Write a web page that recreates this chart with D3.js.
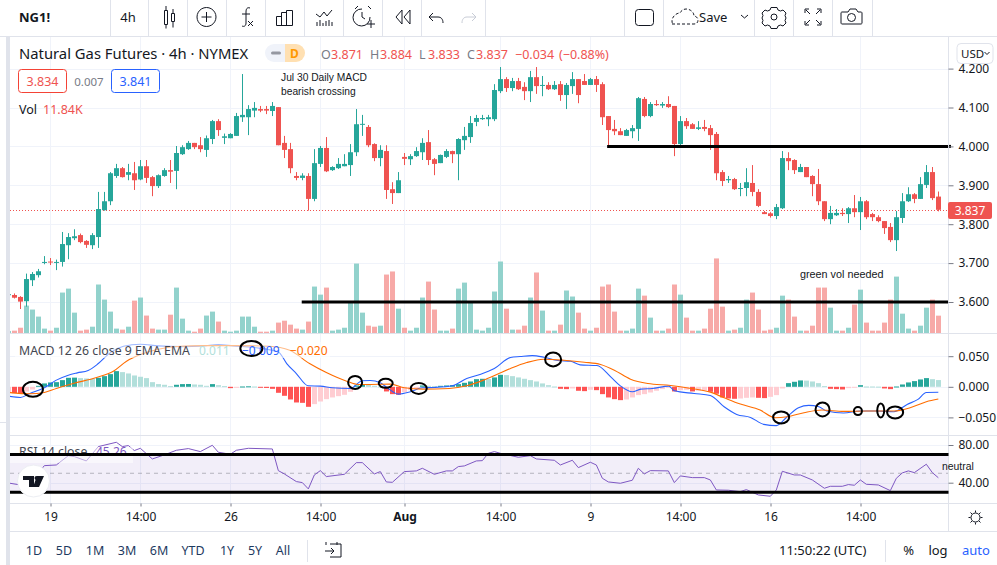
<!DOCTYPE html>
<html><head><meta charset="utf-8"><title>NG1! 4h</title>
<script src="https://cdnjs.cloudflare.com/ajax/libs/d3/7.8.5/d3.min.js"></script>
<style>html,body{margin:0;padding:0;background:#fff;overflow:hidden}svg{display:block}
text{font-family:"Noto Sans",sans-serif;fill:#131722}</style></head><body><div id="c"></div>
<script>
const opens=[3.618,3.618,3.613,3.602,3.656,3.669,3.701,3.704,3.702,3.703,
3.746,3.764,3.772,3.757,3.746,3.767,3.836,3.859,3.924,3.944,
3.927,3.931,3.915,3.949,3.921,3.898,3.924,3.939,3.937,3.980,
3.993,4.009,4.003,3.991,4.019,4.065,4.022,4.021,4.027,4.075,
4.075,4.092,4.096,4.096,4.091,4.101,4.009,3.993,3.924,3.919,
3.924,3.865,3.955,3.996,3.939,3.944,3.949,3.952,3.985,4.056,
4.050,4.006,3.970,3.988,3.890,3.880,3.973,3.967,3.975,3.985,
4.011,3.967,3.957,3.973,3.988,3.980,4.016,4.024,4.063,4.070,
4.070,4.070,4.142,4.173,4.150,4.168,4.153,4.142,4.178,4.156,
4.158,4.147,4.160,4.132,4.155,4.173,4.168,4.158,4.173,4.160,
4.078,4.045,4.039,4.027,4.039,4.045,4.122,4.078,4.109,4.105,
4.109,4.104,4.006,4.065,4.057,4.045,4.050,4.047,4.032,3.934,
3.913,3.916,3.891,3.893,3.906,3.883,3.831,3.828,3.821,3.841,
3.970,3.965,3.934,3.947,3.924,3.903,3.859,3.813,3.823,3.829,
3.826,3.841,3.831,3.859,3.826,3.818,3.808,3.793,3.759,3.816,
3.859,3.877,3.865,3.901,3.934,3.871];
const closes=[3.620,3.611,3.601,3.659,3.672,3.679,3.703,3.703,3.703,3.749,
3.767,3.769,3.754,3.747,3.772,3.839,3.859,3.931,3.944,3.921,
3.934,3.913,3.949,3.919,3.898,3.926,3.939,3.935,3.983,3.998,
4.009,3.998,3.993,4.021,4.065,4.042,4.026,4.032,4.078,4.081,
4.096,4.099,4.092,4.092,4.104,4.003,3.991,3.944,3.919,3.925,
3.865,3.957,3.996,3.936,3.947,3.955,3.955,3.985,4.057,4.058,
4.003,3.970,3.991,3.888,3.880,3.913,3.968,3.975,3.988,4.009,
3.965,3.955,3.978,3.988,3.980,4.019,4.027,4.060,4.073,4.073,
4.075,4.145,4.173,4.150,4.168,4.147,4.142,4.178,4.155,4.158,
4.147,4.158,4.132,4.158,4.173,4.132,4.158,4.173,4.158,4.075,
4.042,4.039,4.029,4.042,4.047,4.124,4.078,4.109,4.106,4.109,
4.101,4.006,4.065,4.052,4.045,4.049,4.045,4.029,3.931,3.911,
3.916,3.890,3.893,3.908,3.883,3.847,3.826,3.821,3.844,3.970,
3.962,3.939,3.947,3.921,3.903,3.859,3.813,3.829,3.829,3.826,
3.841,3.831,3.859,3.818,3.818,3.808,3.790,3.759,3.818,3.859,
3.877,3.865,3.903,3.934,3.867,3.837];
const highs=[3.623,3.622,3.615,3.673,3.677,3.685,3.718,3.713,3.709,3.780,
3.777,3.787,3.776,3.759,3.777,3.883,3.883,3.934,3.955,3.947,
3.955,3.960,3.965,3.965,3.924,3.928,3.944,3.965,4.001,4.003,
4.014,4.009,4.024,4.028,4.068,4.070,4.033,4.034,4.086,4.186,
4.106,4.114,4.104,4.104,4.114,4.101,4.027,4.009,3.934,3.931,
3.931,3.993,4.001,4.024,3.949,3.970,3.980,4.006,4.096,4.081,
4.055,4.008,4.003,4.003,3.908,3.934,3.983,3.980,3.998,4.021,
4.042,3.970,3.979,3.993,3.989,4.021,4.050,4.078,4.081,4.081,
4.081,4.160,4.204,4.178,4.176,4.176,4.165,4.194,4.204,4.181,
4.165,4.168,4.168,4.163,4.191,4.173,4.186,4.176,4.181,4.165,
4.078,4.068,4.047,4.045,4.055,4.127,4.127,4.114,4.119,4.114,
4.129,4.104,4.078,4.073,4.060,4.065,4.068,4.055,4.037,3.939,
3.924,3.919,3.906,3.944,3.952,3.890,3.834,3.831,3.852,3.988,
3.985,3.967,3.955,3.947,3.926,3.942,3.859,3.847,3.839,3.841,
3.844,3.875,3.870,3.862,3.829,3.823,3.808,3.803,3.834,3.880,
3.895,3.880,3.921,3.952,3.947,3.884];
const lows=[3.616,3.609,3.582,3.588,3.641,3.663,3.697,3.695,3.682,3.691,
3.710,3.759,3.751,3.739,3.736,3.739,3.835,3.849,3.919,3.920,
3.913,3.888,3.913,3.906,3.872,3.893,3.922,3.906,3.890,3.978,
3.991,3.993,3.985,3.973,4.006,4.027,4.006,4.021,4.027,4.063,
4.029,4.075,4.088,4.083,4.078,4.003,3.970,3.931,3.913,3.913,
3.835,3.859,3.947,3.934,3.937,3.942,3.949,3.924,3.975,4.027,
3.998,3.962,3.949,3.865,3.852,3.880,3.952,3.952,3.973,3.965,
3.952,3.926,3.957,3.970,3.957,3.913,3.991,4.009,4.052,4.068,
4.052,4.065,4.137,4.140,4.142,4.145,4.119,4.114,4.135,4.129,
4.145,4.145,4.117,4.096,4.135,4.111,4.158,4.158,4.140,4.055,
4.001,4.029,4.029,4.027,4.021,4.014,4.075,4.075,4.104,4.099,
4.099,3.975,4.003,4.045,4.045,4.042,4.039,3.991,3.913,3.898,
3.906,3.888,3.872,3.872,3.872,3.844,3.826,3.817,3.813,3.839,
3.939,3.929,3.934,3.921,3.872,3.849,3.808,3.800,3.821,3.821,
3.803,3.818,3.785,3.813,3.808,3.805,3.775,3.754,3.731,3.803,
3.857,3.854,3.865,3.893,3.862,3.833];
const volumesK=[1.4,1.6,3.6,18.7,16.0,11.2,3.0,1.6,3.6,27.6,
30.3,13.9,1.6,2.3,4.3,33.1,22.8,14.6,3.0,2.3,
4.3,22.1,24.2,11.9,3.0,2.3,2.3,12.5,31.0,9.8,
1.6,0.9,3.0,11.9,14.6,7.8,1.6,0.9,1.6,11.2,
11.2,4.3,0.9,0.9,1.6,7.1,8.4,5.7,3.0,2.3,
7.8,31.7,26.2,31.0,1.6,2.3,3.6,21.0,47.4,13.9,
5.0,4.3,5.0,39.9,42.0,16.6,3.6,1.6,3.6,24.2,
35.1,16.0,1.6,1.6,3.0,30.3,34.4,21.0,2.3,1.6,
3.6,28.3,48.8,16.6,2.3,2.3,5.0,24.2,41.3,15.3,
1.6,1.6,5.7,29.0,24.9,13.9,3.0,1.6,3.6,31.7,
33.1,14.6,1.6,1.6,3.0,30.3,25.5,10.5,1.6,1.6,
3.0,33.1,26.2,10.5,1.6,1.6,3.0,16.6,50.9,18.0,
1.6,2.3,3.6,22.8,27.6,16.0,1.6,2.3,3.6,25.5,
22.8,11.2,1.6,1.6,5.0,31.0,31.0,17.3,1.6,1.6,
3.6,19.4,29.6,7.1,1.6,1.6,7.1,22.8,38.5,13.2,
3.0,1.6,5.0,17.3,22.8,11.84];
const macdHist=[-.0098,-.0104,-.0109,-.0076,-.0044,.0016,.0055,.0071,.0076,.0109,
.0147,.0150,.0142,.0136,.0131,.0147,.0174,.0207,.0256,.0240,
.0218,.0185,.0164,.0142,.0076,.0044,.0033,.0011,.0033,.0044,
.0046,.0038,.0033,.0016,.0044,.0027,.0011,-.0022,-.0016,.0005,
.0008,.0005,-.0016,-.0019,-.0033,-.0098,-.0147,-.0207,-.0256,-.0262,
-.0327,-.0283,-.0240,-.0202,-.0174,-.0153,-.0131,-.0082,.0022,.0038,
.0033,.0016,.0005,-.0076,-.0120,-.0131,-.0087,-.0055,-.0027,.0022,
.0016,.0011,.0016,.0022,.0027,.0044,.0065,.0087,.0125,.0131,
.0128,.0153,.0196,.0191,.0174,.0153,.0131,.0109,.0087,.0055,
.0027,.0005,-.0033,-.0038,-.0027,-.0065,-.0071,-.0049,-.0055,-.0120,
-.0174,-.0202,-.0218,-.0207,-.0174,-.0136,-.0120,-.0093,-.0065,-.0038,
-.0016,-.0076,-.0055,-.0049,-.0076,-.0065,-.0060,-.0082,-.0114,-.0174,
-.0191,-.0196,-.0191,-.0180,-.0174,-.0180,-.0185,-.0164,-.0136,-.0027,
.0060,.0082,.0104,.0101,.0087,.0060,.0011,-.0033,-.0038,-.0044,
-.0022,-.0016,.0027,.0005,.0005,.0003,-.0027,-.0038,.0005,.0038,
.0071,.0093,.0120,.0142,.0125,.0110];
const macdBars=[0,2,3.6,6,8,10,11.5,13.3,15,17,19.2,22,25,28.7,32.5,35,37.5,41,45,46.4,48,50,52,54,57,59,60.3,62,63.3,65,67,69,71,74,76.4,78.6,81,83.7,85.3,87.3,89.3,91.6,93.7,95.3,98.1,100.4,102,104,105.4,107.3,110.1,111,114.3,117,119.3,121.4,123.7,125.9,128,129.8,131.7,133.4,135.1,136.4,139.2,142,144.8,147.6,149.8,151.6,153,155];
const macdLine=[-.0152,-.0174,-.0109,-.0016,.0109,.0190,.0228,.0266,.0380,.0559,.0662,.0695,.0668,.0657,.0668,.0690,.0668,.0641,.0570,.0380,.0217,.0016,.0011,-.0016,-.0027,.0098,.0103,.0065,-.0027,-.0119,-.0081,-.0016,-.0011,.0016,.0136,.0201,.0299,.0478,.0494,.0510,.0483,.0429,.0418,.0358,.0348,.0163,.0016,-.0081,-.0038,-.0027,.0011,-.0065,-.0109,-.0141,-.0326,-.0451,-.0500,-.0614,-.0635,-.0489,-.0342,-.0304,-.0326,-.0396,-.0429,-.0396,-.0396,-.0407,-.0288,-.0206,-.0092,-.0090];
const signalBars=[0,3.6,6,8,10.8,14.7,17.5,19.7,22,25,28.7,32.5,38,43.5,46.9,50.2,53,56.4,58.3,60.3,63.7,66,69,73.5,76.4,79.2,81.4,83.7,86.4,89.2,92.6,96,98.7,101,103.7,106.6,110.4,113.8,117,119.3,122,125.3,127.8,129.8,132.6,135.6,139.2,143.1,147.6,150.3,153,155];
const signalLine=[-.0092,-.0114,-.0092,-.0027,.0054,.0152,.0255,.0418,.0527,.0614,.0662,.0673,.0673,.0662,.0597,.0380,.0233,.0092,.0038,.0038,.0043,-.0016,-.0038,-.0027,.0016,.0109,.0201,.0299,.0396,.0451,.0434,.0402,.0364,.0272,.0125,.0054,.0022,-.0027,-.0087,-.0179,-.0282,-.0380,-.0505,-.0489,-.0424,-.0380,-.0402,-.0396,-.0396,-.0342,-.0244,-.0200];
const rsiBars=[0,2,4,6,8,10,11,13,15,18,19,20,21,22,24,26,28,30,32,34,35,37,38,40,44,45,46,48,49,50,51,52,53,56,58,59,61,62,63,64,66,68,69,71,73,74,75,76,78,79,80,81,82,85,87,88,91,92,94,95,97,98,99,100,102,104,105,106,107,110,111,112,114,116,117,118,120,122,123,125,127,128,129,131,132,134,136,137,139,140,141,142,143,145,147,148,149,150,151,153,154,155];
const rsiVals=[39.7,37.6,42.6,58.1,58.8,68.7,67.7,63.1,78.3,82.9,78.3,79.4,74.1,76.5,65.2,69.5,74.4,76.2,73.0,79.7,72.3,70.2,74.4,76.5,75.8,52.8,49.3,41.2,40.1,33.4,48.2,52.8,46.5,48.9,61.3,61.3,49.3,51.8,40.8,40.4,51.8,52.5,55.3,48.9,52.5,52.5,57.1,57.8,63.1,63.4,71.2,73.0,71.2,67.0,68.7,65.2,63.8,58.8,63.8,56.0,61.7,58.8,44.7,40.8,39.4,42.6,55.3,49.3,52.8,52.5,40.1,47.2,45.4,45.4,42.9,32.3,32.0,30.5,32.7,27.0,25.6,32.3,52.1,48.2,48.2,42.9,34.1,36.2,36.2,38.0,37.3,42.9,38.3,37.6,31.6,44.7,50.4,52.5,50.7,59.6,50.7,45.26];
const priceTicks=[4.2,4.1,4.0,3.9,3.8,3.7,3.6];
const macdTicks=[0.05,0,-0.05];
const rsiTicks=[80,40];
const timeBars=[7,22,37,52,66,82,97,112,127,142];
const timeLabels=["19","14:00","26","14:00","Aug","14:00","9","14:00","16","14:00"];
const ovalBars=[4.1,40.5,57.8,62.9,68.4,90.8,128.8,135.7,141.6,145.4,147.8];
const ovalVals=[-.0042,.0627,.0072,.0056,-.0026,.0448,-.05,-.0369,-.0397,-.0386,-.0418];
const ovalRx=[10,11,7,7,8,8,8,7,4,3.5,8];
const ovalRy=[7.5,7.5,6.5,4.5,5.5,7,6,7,4,7,6];
const rangeBtns=["1D","5D","1M","3M","6M","YTD","1Y","5Y","All"];

const W=997,H=565,L=10,R=948.5,MT=37,MB=333.5,DB=435.5,RB=503.5;
const GREEN="#26a69a",RED="#ef5350",GRID="#f0f3fa",LINE="#e0e3eb",INK="#131722";
const svg=d3.select("#c").append("svg").attr("width",W).attr("height",H).attr("viewBox",`0 0 ${W} ${H}`);
const x=d3.scaleLinear().domain([0,155]).range([8.33,938.33]);
const px=i=>Math.floor(x(i))+0.5;
const yP=d3.scaleLinear().domain([3.6,4.2]).range([302,68.6]);
const yV=d3.scaleLinear().domain([0,60]).range([333,245.1]);
const yM=d3.scaleLinear().domain([-0.05,0.05]).range([417.4,356.2]);
const yR=d3.scaleLinear().domain([40,80]).range([482.7,445]);
const defs=svg.append("defs");
defs.append("clipPath").attr("id","pm").append("rect").attr("x",L).attr("y",MT).attr("width",R-L).attr("height",MB-MT);
defs.append("clipPath").attr("id","pd").append("rect").attr("x",L).attr("y",MB).attr("width",R-L).attr("height",DB-MB);
defs.append("clipPath").attr("id","pr").append("rect").attr("x",L).attr("y",DB).attr("width",R-L).attr("height",RB-DB);

// grids
const grid=svg.append("g");
grid.append("g").selectAll("line").data(timeBars).join("line").attr("x1",d=>px(d)).attr("x2",d=>px(d)).attr("y1",MT).attr("y2",RB).attr("stroke",GRID);
[[yP,priceTicks],[yM,macdTicks],[yR,rsiTicks]].forEach(([s,t])=>{
  grid.append("g").selectAll("line").data(t).join("line").attr("x1",L).attr("x2",R).attr("y1",d=>Math.round(s(d))+.5).attr("y2",d=>Math.round(s(d))+.5).attr("stroke",GRID);
});

// main pane
const bars=d3.range(opens.length);
const main=svg.append("g").attr("clip-path","url(#pm)");
main.append("g").selectAll("rect").data(bars).join("rect")
 .attr("x",i=>px(i)-2.5).attr("width",5).attr("y",i=>yV(volumesK[i])).attr("height",i=>yV(0)-yV(volumesK[i]))
 .attr("fill",i=>closes[i]>=opens[i]?"#92d2cc":"#f7a9a7");
main.append("line").attr("x1",L).attr("x2",R).attr("y1",Math.round(yP(3.837))+.5).attr("y2",Math.round(yP(3.837))+.5)
 .attr("stroke",RED).attr("stroke-dasharray","1 2");
main.append("g").selectAll("line").data(bars).join("line")
 .attr("x1",i=>px(i)).attr("x2",i=>px(i)).attr("y1",i=>yP(highs[i])).attr("y2",i=>yP(lows[i]))
 .attr("stroke",i=>closes[i]>=opens[i]?GREEN:RED);
main.append("g").selectAll("rect").data(bars).join("rect")
 .attr("x",i=>px(i)-2.5).attr("width",5)
 .attr("y",i=>yP(Math.max(opens[i],closes[i])))
 .attr("height",i=>Math.max(1,Math.abs(yP(opens[i])-yP(closes[i]))))
 .attr("fill",i=>closes[i]>=opens[i]?GREEN:RED);
main.append("line").attr("x1",x(99.8)).attr("x2",951).attr("y1",yP(4)).attr("y2",yP(4)).attr("stroke","#000").attr("stroke-width",3);
svg.append("line").attr("x1",951).attr("x2",948).attr("y1",yP(4)).attr("y2",yP(4)).attr("stroke","#000").attr("stroke-width",3);
main.append("line").attr("x1",x(48.9)).attr("x2",R).attr("y1",yP(3.6)).attr("y2",yP(3.6)).attr("stroke","#000").attr("stroke-width",3);

// macd pane
const mp=svg.append("g").attr("clip-path","url(#pd)");
mp.append("g").selectAll("rect").data(bars).join("rect")
 .attr("x",i=>px(i)-2.5).attr("width",5)
 .attr("y",i=>Math.min(yM(0),yM(macdHist[i])))
 .attr("height",i=>Math.max(1,Math.abs(yM(macdHist[i])-yM(0))))
 .attr("fill",i=>{const v=macdHist[i],p=i?macdHist[i-1]:v;return v>=0?(v>p?GREEN:"#b2dfdb"):(v<p?"#ff5252":"#ffcdd2");});
const lM=d3.line().x(d=>x(d[0])).y(d=>yM(d[1])).curve(d3.curveMonotoneX);
mp.append("path").attr("d",lM(d3.zip(macdBars,macdLine))).attr("fill","none").attr("stroke","#2962ff").attr("stroke-width",1.1);
mp.append("path").attr("d",lM(d3.zip(signalBars,signalLine))).attr("fill","none").attr("stroke","#ff6d00").attr("stroke-width",1.1);
svg.append("rect").attr("x",15).attr("y",342).attr("width",315).attr("height",16).attr("fill","#fff").attr("opacity",.55);

// rsi pane
const rp=svg.append("g").attr("clip-path","url(#pr)");
rp.append("rect").attr("x",L).attr("width",R-L).attr("y",yR(70)).attr("height",yR(30)-yR(70)).attr("fill","#7e57c2").attr("opacity",.1);
rp.append("line").attr("x1",L).attr("x2",R).attr("y1",yR(50)).attr("y2",yR(50)).attr("stroke","#787b86").attr("stroke-opacity",.5).attr("stroke-dasharray","4 4");
rp.append("path").attr("d",d3.line().x(d=>x(d[0])).y(d=>yR(d[1]))(d3.zip(rsiBars,rsiVals))).attr("fill","none").attr("stroke","#7e57c2").attr("stroke-width",1);
svg.append("rect").attr("x",L).attr("y",447).attr("width",123).attr("height",16).attr("fill","#fff").attr("opacity",.5);

// structure lines
const st=svg.append("g").attr("stroke",LINE).attr("fill","none");
[[0,36.5,W,36.5],[L,MB,W,MB],[L,DB,W,DB],[L,RB,W,RB],[L,531.5,W,531.5],[R,MT,R,531.5]].forEach(a=>
  st.append("line").attr("x1",a[0]).attr("y1",a[1]).attr("x2",a[2]).attr("y2",a[3]));
svg.append("rect").attr("x",6).attr("y",37).attr("width",4).attr("height",528).attr("fill",LINE);
svg.append("line").attr("x1",0).attr("x2",6).attr("y1",422.5).attr("y2",422.5).attr("stroke",LINE);
[110,148,187,226,265,304,343,382,421,485,624,663,754,793,832,872].forEach(v=>
  st.append("line").attr("x1",v+.5).attr("x2",v+.5).attr("y1",0).attr("y2",36));

// axes
function axisR(sc,ticks,fmt){
  const g=svg.append("g").attr("transform",`translate(${R},0)`)
   .call(d3.axisRight(sc).tickValues(ticks).tickFormat(fmt).tickSize(5).tickPadding(5));
  g.select(".domain").remove();
  g.selectAll("line").attr("stroke","#787b86");
  g.selectAll("text").attr("font-size",12).attr("font-family",'"Noto Sans",sans-serif').attr("fill",INK);
}
axisR(yP,priceTicks,d3.format(".3f"));
axisR(yM,macdTicks,d=>d3.format(".3f")(d).replace("-","\u2212"));
axisR(yR,rsiTicks,d3.format(".2f"));
const tg=svg.append("g").attr("transform",`translate(0,${RB})`)
 .call(d3.axisBottom(d3.scaleOrdinal().domain(timeBars).range(timeBars.map(px))).tickFormat((d,i)=>timeLabels[i]).tickSize(3).tickPadding(6));
tg.select(".domain").remove();
tg.selectAll("line").attr("stroke","#787b86");
tg.selectAll("text").attr("font-size",12).attr("font-family",'"Noto Sans",sans-serif').attr("fill",INK).attr("font-weight",(d,i)=>timeLabels[i]=="Aug"?700:400);

// legends
function T(s,xp,yp,o={}){const t=svg.append("text").attr("x",xp).attr("y",yp).attr("font-size",o.size||12).text(s);
 if(o.fill)t.style("fill",o.fill);if(o.anchor)t.attr("text-anchor",o.anchor);if(o.weight)t.attr("font-weight",o.weight);
 if(o.font)t.style("font-family",o.font);return t;}
T("Natural Gas Futures \u00b7 4h \u00b7 NYMEX",19,59,{size:14.8});
svg.append("path").attr("d","M285 44H274a9 9 0 0 0 0 18H285Z").attr("fill","#f0f3fa");
svg.append("path").attr("d","M285 44H296a9 9 0 0 1 0 18H285Z").attr("fill","#ffe0b2");
svg.append("rect").attr("x",271).attr("y",51.5).attr("width",10).attr("height",3).attr("rx",1.5).attr("fill","#9598a1");
T("D",294.5,58,{size:12,anchor:"middle",weight:700,fill:"#ff9800"});
[["O",321,"#787b86"],["3.871",331,RED],["H",370,"#787b86"],["3.884",380,RED],["L",419,"#787b86"],["3.833",428,RED],["C",467,"#787b86"],["3.837",476,RED],["\u22120.034",515,RED],["(\u22120.88%)",559,RED]]
 .forEach(a=>T(a[0],a[1],59,{size:12.5,fill:a[2]}));
svg.append("rect").attr("x",18.5).attr("y",69.5).attr("width",48).attr("height",23).attr("rx",3).attr("fill","#fff").attr("stroke","#f44336");
T("3.834",42.5,86,{size:12.5,anchor:"middle",fill:RED});
T("0.007",89,86,{size:11.5,anchor:"middle",fill:"#787b86"});
svg.append("rect").attr("x",111.5).attr("y",69.5).attr("width",48).attr("height",23).attr("rx",3).attr("fill","#fff").attr("stroke","#2962ff");
T("3.841",135.5,86,{size:12.5,anchor:"middle",fill:"#2962ff"});
T("Vol",19,114,{size:12.5});
T("11.84K",43,114,{size:12.5,fill:RED});
const A='"Liberation Sans",sans-serif';
T("Jul 30 Daily MACD",281,81,{size:10.25,font:A});
T("bearish crossing",281,95,{size:10.25,font:A});
T("green vol needed",800,278,{size:10.8,font:A});
T("neutral",942,470,{size:10.4,font:A});
T("MACD 12 26 close 9 EMA EMA",19,355,{size:12.3,fill:"#434651"});
T("0.011",199,355,{size:12,fill:"#b2dfdb"});
T("\u22120.009",242,355,{size:12,fill:"#2962ff"});
T("\u22120.020",290,355,{size:12,fill:"#ff6d00"});
T("RSI 14 close",19,456,{size:12.3,fill:"#434651"});
T("45.26",96,456,{size:12,fill:"#7e57c2"});
// black band lines and ovals
[70,30].forEach(v=>svg.append("line").attr("x1",L).attr("x2",R).attr("y1",yR(v)).attr("y2",yR(v)).attr("stroke","#000").attr("stroke-width",3));
svg.append("g").selectAll("ellipse").data(ovalBars).join("ellipse")
 .attr("cx",d=>x(d)).attr("cy",(d,i)=>yM(ovalVals[i])).attr("rx",(d,i)=>ovalRx[i]).attr("ry",(d,i)=>ovalRy[i])
 .attr("fill","none").attr("stroke","#000").attr("stroke-width",2);
// logo
svg.append("circle").attr("cx",33.5).attr("cy",481).attr("r",16).attr("fill","#fff").attr("stroke","#eceef3");
svg.append("path").attr("d","M23 476H34V487H29V480H23ZM37 476H44L39 487H33Z").attr("fill",INK);
svg.append("circle").attr("cx",36.5).attr("cy",478).attr("r",2).attr("fill",INK);
// last price tag
svg.append("rect").attr("x",948).attr("y",202).attr("width",44).attr("height",17).attr("rx",2).attr("fill",RED);
T("3.837",970,215,{size:12,anchor:"middle",fill:"#fff"});
// usd
svg.append("rect").attr("x",957).attr("y",43.5).attr("width",36).attr("height",20).attr("rx",4).attr("fill","#fff").attr("stroke",LINE);
T("USD",961,58,{size:11.5});
svg.append("path").attr("d","M984.5 52l2.5 2.5 2.5-2.5").attr("fill","none").attr("stroke",INK);
// top bar
T("NG1!",19,22,{size:13,weight:700});
T("4h",128,22,{size:13,anchor:"middle"});
T("Save",699,22,{size:13});
const ic=svg.append("g").attr("fill","none").attr("stroke",INK).attr("stroke-width",1);
[
"M164.5 10.5h3v14h-3zM166 6v4.5M166 24.5v4M171.5 13.5h3v8h-3zM173 9v4.5M173 21.5v6",
"M206.5 7.5a9.5 9.5 0 1 0 .01 0ZM206.5 12v10M201.5 17h10",
"M250 8c-3-1-4 1-4 4v11c0 3-2 4-4 3M242 14h8M248 21l5 5M253 21l-5 5",
"M276.5 25.5V16.5h5v9M281.5 25.5V12.5h5v13M286.5 25.5V10.5h6v15M276.5 25.5h16",
"M316 14l4 3 4-5 3 4 5-6M317 26v-4M320 26v-6M323 26v-3M326 26v-5M329 26v-6M332 26v-4",
"M362 9a8.5 8.5 0 1 0 8 8M362 12v5l3 2M355 9l3-3M368 6l3 3M367 24h8M371 20v8",
"M402 10l-6 7 6 7zM410 10l-6 7 6 7z",
"M433 13l-4 4 4 4M429 17h9c3 0 5 2 5 6",
"M771 7.5h6l1 2.500 2.500 1 2.500-1 3 3-1 2.500 1 2.500v0l-1 2.500 1 2.500-3 3-2.500-1-2.500 1-1 2.500h-6l-1-2.500-2.500-1-2.500 1-3-3 1-2.500-1-2.500 1-2.500-1-2.500 3-3 2.500 1 2.500-1z"
].forEach(d=>ic.append("path").attr("d",d));
svg.append("path").attr("d","M472 13l4 4-4 4M476 17h-9c-3 0-5 2-5 6").attr("fill","none").attr("stroke","#c8ccd6");
ic.append("rect").attr("x",635.5).attr("y",9.5).attr("width",18).attr("height",16).attr("rx",3);
ic.append("path").attr("d","M672 24h22c3 0 4-2 4-4s-2-4-4-4c0-4-4-7-8-7-3 0-5 2-6 4-4 0-8 4-8 8 0 2 1 3 0 3").attr("stroke-dasharray","3 2");
ic.append("path").attr("d","M741 15l3.5 3 3.5-3");
ic.append("circle").attr("cx",774).attr("cy",17).attr("r",3);
ic.append("path").attr("d","M805 13V9h4M817 9h4v4M805 21v4h4M821 21v4h-4M806 10l4 4M820 10l-4 4M806 24l4-4M820 24l-4-4");
ic.append("path").attr("d","M842 12h6l2-3h6l2 3h3c1 0 1 1 1 1v10c0 1-1 1-1 1h-19c-1 0-1-1-1-1V13c0-1 1-1 1-1z");
ic.append("circle").attr("cx",851.5).attr("cy",17.5).attr("r",4);
// bottom bar
const btnX=[34,64,95,127,159,193,227,255,283];
rangeBtns.forEach((s,i)=>T(s,btnX[i],555,{size:12.5,anchor:"middle",fill:"#1e3a5f"}));
svg.append("line").attr("x1",307.5).attr("x2",307.5).attr("y1",540).attr("y2",562).attr("stroke",LINE);
svg.append("line").attr("x1",885.5).attr("x2",885.5).attr("y1",540).attr("y2",562).attr("stroke",LINE);
ic.append("path").attr("d","M330 544H341V557H330M326 542v3M337 542v3M325 551h9M331 548l3 3-3 3");
T("11:50:22 (UTC)",779,555,{size:13});
T("%",908.7,555,{size:13,anchor:"middle"});
T("log",938,555,{size:13,anchor:"middle"});
T("auto",976,555,{size:13,anchor:"middle",fill:"#2962ff"});
ic.append("circle").attr("cx",975.5).attr("cy",517.5).attr("r",4.5);
ic.append("path").attr("d","M975.5 510.5v2M975.5 522.5v2M968.5 517.5h2M980.5 517.5h2M970.5 512.5l1.5 1.5M979 521l1.5 1.5M970.5 522.5l1.5-1.5M979 514l1.5-1.5");
</script></body></html>
